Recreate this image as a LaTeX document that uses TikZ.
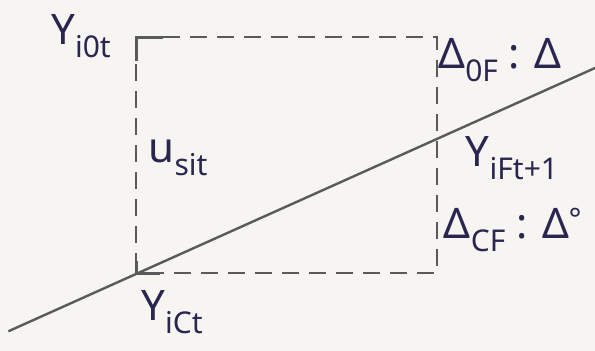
\documentclass[tikz,border=0pt]{standalone}
\usepackage{fontspec}
\setmainfont{Noto Sans}
\usepackage{xcolor}
\usepackage{tikz}
\definecolor{ink}{HTML}{2B2650}
\definecolor{pencil}{HTML}{5A5A5A}
\definecolor{paper}{HTML}{F6F5F1}
\newcommand{\idx}[1]{\raisebox{-0.3em}{\fontsize{30}{30}\selectfont #1}}

\begin{document}
\begin{tikzpicture}[
  x=1pt, y=-1pt,
  lbl/.style={text=ink, font=\fontsize{42}{46}\selectfont, inner sep=0pt},
  box/.style={draw=pencil, line width=2.8pt, dash pattern=on 17pt off 10pt},
  corner/.style={draw=pencil, line width=3pt},
  trend/.style={draw=pencil, line width=2.4pt, line cap=round}
]
\fill[paper] (0,0) rectangle (595,351);
\useasboundingbox (0,0) rectangle (595,351);
% corners of the box
\coordinate (tl) at (136,37);
\coordinate (tr) at (437,37);
\coordinate (br) at (437,273);
\coordinate (bl) at (136,273);
% line through the box
\coordinate (lstart) at (9,331);
\coordinate (lend) at (595,68);
\draw[box, dash phase=-27pt] (tl) -- (tr) -- (br) -- (bl);
\draw[box, dash phase=-27pt] (tl) -- (bl);
\draw[corner] ([xshift=27pt]tl) -- (tl) -- ([yshift=-24pt]tl);
\draw[corner] ([yshift=12pt]bl) -- (bl) -- ([xshift=24pt]bl);
\draw[trend] (lstart) -- (lend);
% labels
\node[lbl] (y0) at (81,36) {Y\idx{i0t}};
\node[lbl] (d0) at (500,60) {Δ\idx{0F} : Δ};
\node[lbl] (yf) at (512,158) {Y\idx{iFt+1}};
\node[lbl] (dc) at (513,230) {Δ\idx{CF} : Δ\textsuperscript{°}};
\node[lbl] (u) at (178,158) {u\idx{sit}};
\node[lbl] (yc) at (172,312) {Y\idx{iCt}};
\end{tikzpicture}
\end{document}
